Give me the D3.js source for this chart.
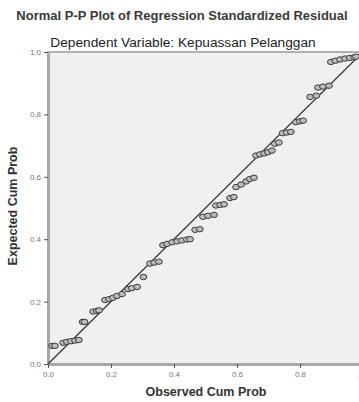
<!DOCTYPE html>
<html>
<head>
<meta charset="utf-8">
<script src="https://cdn.jsdelivr.net/npm/d3@7"></script>
<style>
  body { margin: 0; background: #fff; }
  svg { display: block; font-family: "Liberation Sans", Arial, sans-serif; }
</style>
</head>
<body>
<svg id="chart" width="359" height="402"></svg>
<script>
// observed cum prob (x) and expected cum prob (y)
const observed = [
  .013, .022,
  .048, .060, .073, .086, .098,
  .110, .116,
  .143, .155, .162,
  .181, .194, .206, .219, .235,
  .254, .266, .283,
  .303,
  .324, .337, .352,
  .365, .378, .394, .410, .425, .441, .451,
  .467, .482,
  .492, .508, .527,
  .533, .547, .559,
  .578, .590,
  .597, .613, .629, .641, .654,
  .660, .673, .686, .698, .711,
  .720, .733,
  .745, .758, .771,
  .787, .800, .810,
  .832, .852,
  .857, .873, .892,
  .898, .912, .927, .943, .958, .972, .978
];
const expected = [
  .058, .058,
  .068, .071, .073, .075, .077,
  .135, .135,
  .168, .170, .172,
  .205, .208, .212, .218, .224,
  .240, .243, .247,
  .279,
  .322, .325, .328,
  .381, .385, .390, .393, .396, .399, .400,
  .430, .432,
  .472, .475, .478,
  .508, .510, .512,
  .532, .535,
  .567, .575, .585, .593, .597,
  .668, .672, .675, .679, .684,
  .706, .710,
  .740, .742, .744,
  .775, .778, .780,
  .856, .860,
  .886, .889, .892,
  .968, .972, .976, .979, .981, .983, .985
];
const tickValues = [0, 0.2, 0.4, 0.6, 0.8, 1.0];

const title = "Normal P-P Plot of Regression Standardized Residual";
const subtitle = "Dependent Variable: Kepuassan Pelanggan";

const svg = d3.select("#chart");
const m = { left: 48, top: 52 };
const w = 315, h = 312;

const x = d3.scaleLinear().domain([0, 1]).range([m.left, m.left + w]);
const y = d3.scaleLinear().domain([0, 1]).range([m.top + h, m.top]);

svg.append("text")
  .attr("x", 182).attr("y", 20)
  .attr("text-anchor", "middle")
  .attr("font-size", 13).attr("font-weight", "bold")
  .attr("fill", "#3a3a3a")
  .text(title);

svg.append("text")
  .attr("x", 183).attr("y", 47)
  .attr("text-anchor", "middle")
  .attr("font-size", 13.7)
  .attr("fill", "#222")
  .text(subtitle);

// plot area
svg.append("rect")
  .attr("x", m.left).attr("y", m.top)
  .attr("width", w).attr("height", h)
  .attr("fill", "#f0f0f0")
  .attr("stroke", "#b0b0b0").attr("stroke-width", 2);

const xAxis = svg.append("g")
  .attr("transform", `translate(0,${m.top + h})`)
  .call(d3.axisBottom(x).tickValues(tickValues).tickFormat(d3.format(".1f")).tickSize(4).tickSizeOuter(0));
const yAxis = svg.append("g")
  .attr("transform", `translate(${m.left},0)`)
  .call(d3.axisLeft(y).tickValues(tickValues).tickFormat(d3.format(".1f")).tickSize(4).tickSizeOuter(0));

[xAxis, yAxis].forEach(g => {
  g.select(".domain").attr("stroke", "#a8a8a8").attr("stroke-width", 3);
  g.selectAll(".tick line").attr("stroke", "#555");
  g.selectAll(".tick text").attr("font-size", 8).attr("fill", "#777")
    .attr("font-family", "'Liberation Sans', Arial, sans-serif");
});

// diagonal reference line
svg.append("line")
  .attr("x1", x(0)).attr("y1", y(0))
  .attr("x2", x(1)).attr("y2", y(1))
  .attr("stroke", "#333").attr("stroke-width", 1.2);

svg.selectAll("ellipse.pt")
  .data(observed.map((o, i) => [o, expected[i]]))
  .enter()
  .append("ellipse")
  .attr("class", "pt")
  .attr("cx", d => x(d[0]))
  .attr("cy", d => y(d[1]))
  .attr("rx", 3.4).attr("ry", 2.7)
  .attr("fill", "#bcbcbc")
  .attr("stroke", "#3a3a3a")
  .attr("stroke-width", 1);

svg.append("text")
  .attr("transform", `translate(17,206) rotate(-90)`)
  .attr("text-anchor", "middle")
  .attr("font-size", 12.5).attr("font-weight", "bold")
  .attr("fill", "#333")
  .text("Expected Cum Prob");

svg.append("text")
  .attr("x", 206).attr("y", 396)
  .attr("text-anchor", "middle")
  .attr("font-size", 12.5).attr("font-weight", "bold")
  .attr("fill", "#333")
  .text("Observed Cum Prob");
</script>
</body>
</html>
